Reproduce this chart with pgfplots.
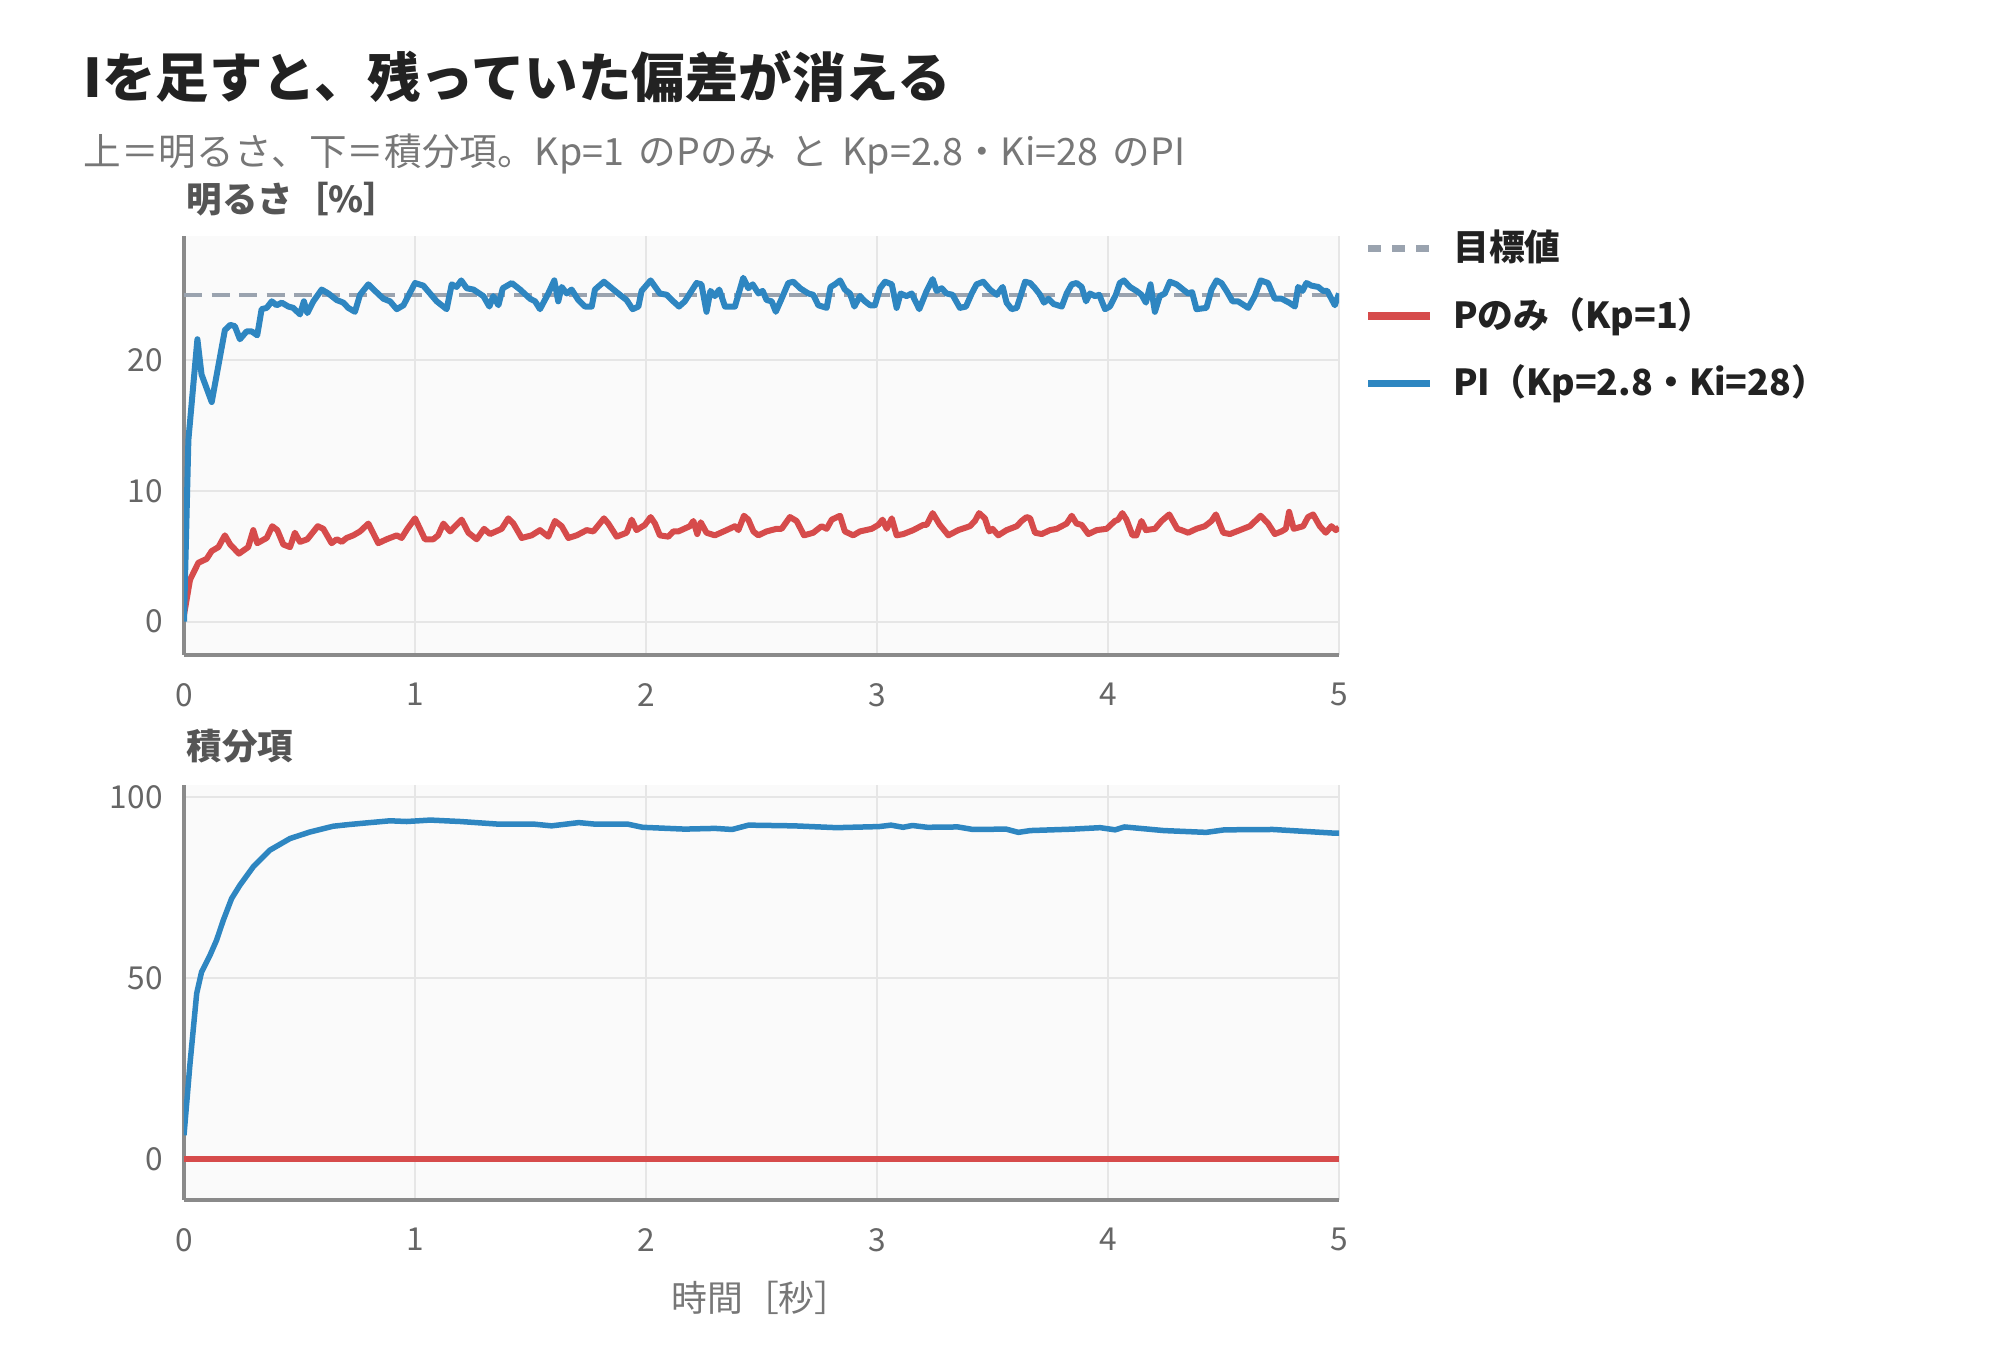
\documentclass[border=0pt]{standalone}
\usepackage{fontspec}
\setmainfont{Noto Sans CJK JP}
\usepackage{pgfplots}
\usepackage{pgfplotstable}
\pgfplotsset{compat=1.18}

\definecolor{piblue}{HTML}{2E86C1}
\definecolor{pred}{HTML}{D64B4B}
\definecolor{tgt}{HTML}{9AA3AF}
\definecolor{bgc}{HTML}{FAFAFA}
\definecolor{gridc}{HTML}{E6E6E6}
\definecolor{axc}{HTML}{8A8A8A}
\definecolor{titlec}{HTML}{222222}
\definecolor{subc}{HTML}{777777}
\definecolor{labc}{HTML}{555555}
\definecolor{tickc}{HTML}{666666}

% brightness, PI control
\pgfplotstableread{
t y
0 0
0.019 13.9
0.058 21.6
0.076 18.9
0.12 16.8
0.177 22.3
0.2 22.7
0.22 22.6
0.242 21.6
0.271 22.2
0.293 22.2
0.317 21.9
0.336 23.9
0.358 24.0
0.38 24.5
0.401 24.2
0.423 24.4
0.452 24.1
0.473 24.0
0.502 23.5
0.519 24.5
0.534 23.6
0.56 24.5
0.596 25.4
0.625 25.1
0.661 24.6
0.69 24.4
0.711 24.0
0.74 23.7
0.762 25.0
0.798 25.8
0.827 25.3
0.863 24.7
0.892 24.5
0.921 23.9
0.95 24.2
1.0 25.9
1.036 25.7
1.065 25.1
1.094 24.5
1.137 23.9
1.159 25.8
1.18 25.6
1.2 26.1
1.224 25.5
1.253 25.4
1.296 24.9
1.322 24.1
1.339 24.9
1.361 24.2
1.38 25.5
1.419 25.9
1.455 25.4
1.498 24.7
1.52 24.5
1.541 23.9
1.577 25.1
1.603 26.1
1.62 24.5
1.635 25.6
1.657 25.1
1.678 25.4
1.707 24.6
1.736 24.1
1.765 24.1
1.779 25.4
1.818 26.0
1.859 25.4
1.887 25.0
1.916 24.6
1.942 23.9
1.967 24.1
1.981 25.3
2.02 26.1
2.06 25.1
2.09 25.0
2.118 24.5
2.143 24.1
2.168 24.5
2.219 25.9
2.24 25.8
2.262 23.7
2.279 25.3
2.298 24.9
2.317 25.4
2.342 24.1
2.385 24.1
2.421 26.3
2.443 25.5
2.462 25.8
2.487 25.1
2.505 25.3
2.522 24.6
2.544 24.5
2.562 23.7
2.587 24.7
2.616 25.9
2.638 26.0
2.667 25.5
2.703 25.1
2.724 25.0
2.746 24.2
2.782 24.0
2.799 25.6
2.818 25.8
2.84 26.1
2.861 25.4
2.883 25.1
2.902 24.1
2.926 24.9
2.948 24.5
2.97 24.2
2.991 24.2
3.013 25.5
3.035 26.0
3.064 25.8
3.085 24.0
3.102 25.1
3.128 24.9
3.15 25.1
3.183 23.9
3.215 25.3
3.241 26.2
3.258 25.3
3.28 25.5
3.301 25.1
3.327 25.0
3.359 24.0
3.385 24.1
3.41 25.1
3.431 25.8
3.46 26.0
3.489 25.4
3.518 25.0
3.544 25.6
3.561 24.4
3.583 23.9
3.605 24.0
3.641 26.0
3.663 25.9
3.684 25.5
3.706 25.0
3.723 24.4
3.742 24.7
3.764 24.3
3.8 24.1
3.821 25.1
3.843 25.8
3.864 25.9
3.886 25.6
3.905 24.5
3.922 25.1
3.944 24.9
3.962 25.0
3.987 23.9
4.008 24.1
4.034 25.0
4.051 25.9
4.069 26.1
4.095 25.6
4.123 25.3
4.145 25.0
4.164 24.4
4.184 25.8
4.203 23.7
4.224 24.9
4.246 25.1
4.268 26.0
4.297 25.8
4.325 25.4
4.347 25.1
4.364 25.2
4.383 23.9
4.426 24.0
4.448 25.4
4.47 26.1
4.491 25.9
4.513 25.3
4.539 24.5
4.563 24.5
4.607 24.0
4.635 24.9
4.661 26.1
4.693 25.9
4.722 24.7
4.751 24.7
4.784 24.4
4.809 24.1
4.823 25.6
4.842 25.3
4.859 25.9
4.881 25.7
4.91 25.6
4.931 25.3
4.949 25.3
4.982 24.2
5.0 25.1
}\piup

% brightness, P only
\pgfplotstableread{
t y
0 0.5
0.026 3.2
0.062 4.5
0.098 4.8
0.12 5.4
0.149 5.7
0.177 6.6
0.2 5.9
0.238 5.2
0.278 5.7
0.3 7.0
0.317 6.0
0.358 6.4
0.382 7.3
0.404 7.0
0.43 5.9
0.459 5.7
0.48 6.8
0.502 6.1
0.534 6.3
0.579 7.3
0.603 7.1
0.639 6.0
0.661 6.3
0.683 6.1
0.704 6.4
0.733 6.6
0.762 6.9
0.798 7.5
0.841 6.0
0.877 6.3
0.921 6.6
0.942 6.4
0.967 7.1
1.0 7.9
1.043 6.3
1.079 6.3
1.1 6.6
1.123 7.5
1.152 6.9
1.202 7.8
1.231 6.8
1.267 6.3
1.299 7.1
1.325 6.7
1.375 7.1
1.404 7.9
1.426 7.5
1.462 6.4
1.505 6.6
1.541 7.0
1.577 6.5
1.606 7.7
1.635 7.3
1.664 6.4
1.7 6.6
1.743 7.0
1.772 6.9
1.818 7.9
1.837 7.5
1.873 6.5
1.916 6.8
1.938 7.8
1.959 7.0
1.995 7.4
2.02 8.0
2.039 7.5
2.06 6.6
2.097 6.5
2.118 6.9
2.14 6.9
2.19 7.3
2.205 7.7
2.222 6.7
2.237 7.6
2.262 6.8
2.298 6.6
2.349 7.0
2.385 7.3
2.4 7.0
2.424 8.1
2.443 7.8
2.465 6.9
2.486 6.6
2.522 6.9
2.565 7.1
2.587 7.1
2.623 8.0
2.652 7.7
2.684 6.6
2.724 6.8
2.76 7.3
2.782 7.1
2.804 7.8
2.84 8.1
2.861 6.9
2.897 6.6
2.926 6.9
2.977 7.1
3.006 7.4
3.024 7.8
3.042 7.1
3.064 7.9
3.085 6.6
3.114 6.7
3.157 7.0
3.2 7.4
3.215 7.4
3.241 8.3
3.272 7.4
3.309 6.6
3.352 7.0
3.402 7.3
3.424 7.7
3.442 8.3
3.467 7.9
3.486 6.9
3.5 7.1
3.525 6.6
3.561 7.0
3.605 7.3
3.626 7.7
3.648 8.0
3.663 7.9
3.684 6.8
3.713 6.7
3.749 7.0
3.778 7.1
3.821 7.5
3.843 8.1
3.864 7.5
3.886 7.4
3.915 6.7
3.951 7.0
3.994 7.1
4.03 7.7
4.044 7.8
4.062 8.3
4.08 7.8
4.106 6.6
4.123 6.6
4.145 7.7
4.164 7.0
4.203 7.1
4.232 7.7
4.265 8.2
4.3 7.1
4.318 7.0
4.347 6.8
4.383 7.1
4.419 7.3
4.448 7.7
4.467 8.2
4.499 6.8
4.528 6.7
4.571 7.0
4.614 7.3
4.661 8.1
4.693 7.5
4.722 6.7
4.751 6.9
4.77 7.1
4.784 8.4
4.804 7.1
4.845 7.3
4.866 8.0
4.888 8.2
4.917 7.3
4.943 6.8
4.967 7.3
4.986 7.0
5.0 7.2
}\pup

% integral term, PI control
\pgfplotstableread{
t y
0 6.6
0.026 26.4
0.055 45.8
0.076 51.7
0.113 56.4
0.141 60.5
0.17 66.0
0.206 72.0
0.242 75.7
0.3 80.8
0.372 85.4
0.459 88.6
0.545 90.4
0.646 92.0
0.719 92.5
0.805 93.0
0.892 93.5
0.964 93.3
1.066 93.7
1.197 93.3
1.355 92.6
1.512 92.6
1.591 92.1
1.709 93.0
1.775 92.6
1.919 92.6
1.985 91.7
2.168 91.2
2.299 91.4
2.373 91.1
2.444 92.3
2.641 92.1
2.825 91.6
3.009 91.9
3.061 92.3
3.113 91.7
3.153 92.2
3.218 91.7
3.35 91.8
3.415 91.1
3.559 91.2
3.612 90.3
3.664 90.8
3.848 91.2
3.966 91.6
4.031 91.0
4.071 91.8
4.241 90.8
4.425 90.3
4.504 91.0
4.714 91.1
4.792 90.8
4.976 90.1
5.0 90.1
}\piint

\pgfplotsset{
  base/.style={
    scale only axis,
    width=115.5mm,
    xmin=0, xmax=5,
    xtick={0,1,2,3,4,5},
    axis x line*=bottom,
    axis y line*=left,
    axis line style={-, draw=axc, line width=0.4mm},
    axis background/.style={fill=bgc},
    grid=major,
    major grid style={draw=gridc, line width=0.2mm},
    major tick length=0pt,
    tick label style={font=\fontsize{9pt}{11pt}\selectfont, text=tickc},
    /pgf/number format/assume math mode=true,
    xticklabel style={yshift=-1.6mm},
    yticklabel style={xshift=-0.9mm},
    clip=true,
  },
}

\begin{document}
\begin{tikzpicture}
\fill[white] (0,0) rectangle (200mm,135.2mm);
\path[use as bounding box] (0,0) rectangle (200mm,135.2mm);

\node[anchor=west, inner sep=0pt, text=titlec, font=\fontsize{15.2pt}{18pt}\selectfont\bfseries]
  at (8.3mm,127.5mm) {Iを足すと、残っていた偏差が消える};
\node[anchor=west, inner sep=0pt, text=subc, font=\fontsize{10.7pt}{12pt}\selectfont]
  at (8.3mm,119.8mm) {上＝明るさ、下＝積分項。Kp=1\, のPのみ\, と\, Kp=2.8・Ki=28\, のPI};
\node[anchor=west, inner sep=0pt, text=labc, font=\fontsize{10.1pt}{12pt}\selectfont\bfseries]
  at (18.6mm,115.3mm) {明るさ［\%］};
\node[anchor=west, inner sep=0pt, text=labc, font=\fontsize{10.1pt}{12pt}\selectfont\bfseries]
  at (18.6mm,60.6mm) {積分項};
\node[inner sep=0pt, text=subc, font=\fontsize{10.2pt}{12pt}\selectfont]
  at (76.1mm,5.4mm) {時間［秒］};

\begin{axis}[base,
  at={(18.4mm,69.7mm)}, anchor=south west,
  height=41.9mm,
  ymin=-2.55, ymax=29.5,
  ytick={0,10,20},
  legend cell align=left,
  legend style={at={(axis description cs:1.0216,1.0143)}, anchor=north west,
    draw=none, fill=none, inner sep=0pt, row sep=3.25mm,
    nodes={inner sep=0pt, text height=0.85em, text depth=0.15em},
    font=\fontsize{10.2pt}{12pt}\selectfont\bfseries, text=titlec,
    /tikz/every odd column/.append style={column sep=1.9mm}},
]
\addplot[tgt, line width=0.45mm, dash pattern=on 1.8mm off 0.95mm,
  legend image code/.code={\draw[tgt, line width=0.75mm, dash pattern=on 1.3mm off 1.1mm] (0mm,0mm) -- (6.2mm,0mm);}]
  coordinates {(0,25) (5,25)};
\addlegendentry{目標値}
\addplot[pred, line width=0.6mm, line join=round,
  legend image code/.code={\draw[pred, line width=0.75mm] (0mm,0mm) -- (6.2mm,0mm);}]
  table[x=t, y=y] {\pup};
\addlegendentry{Pのみ（Kp=1）}
\addplot[piblue, line width=0.6mm, line join=round,
  legend image code/.code={\draw[piblue, line width=0.75mm] (0mm,0mm) -- (6.2mm,0mm);}]
  table[x=t, y=y] {\piup};
\addlegendentry{PI（Kp=2.8・Ki=28）}
\end{axis}

\begin{axis}[base,
  at={(18.4mm,15.2mm)}, anchor=south west,
  height=41.5mm,
  ymin=-11.3, ymax=103.4,
  ytick={0,50,100},
]
\addplot[pred, line width=0.55mm] coordinates {(0,0) (5,0)};
\addplot[piblue, line width=0.55mm, line join=round] table[x=t, y=y] {\piint};
\end{axis}
\end{tikzpicture}
\end{document}
